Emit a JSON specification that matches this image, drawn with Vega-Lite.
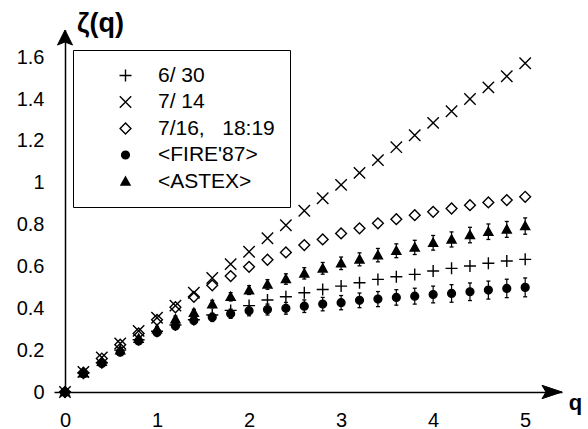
{
  "$schema": "https://vega.github.io/schema/vega-lite/v6.json",
  "width": 497,
  "height": 362,
  "autosize": {"type": "none"},
  "padding": {"left": 65, "top": 30, "right": 26, "bottom": 37},
  "background": "white",
  "config": {
    "view": {"stroke": null},
    "font": "Liberation Sans",
    "axis": {"grid": false, "domainColor": "black", "domainWidth": 1.5, "labelColor": "black", "titleColor": "black", "labelFont": "Liberation Sans", "titleFont": "Liberation Sans", "labelFlush": false},
    "legend": {
      "orient": "none", "legendX": 8, "legendY": 20, "padding": 15, "rowPadding": 4.5,
      "strokeColor": "black", "strokeWidth": 1, "fillColor": "white",
      "labelFontSize": 21, "labelFont": "Liberation Sans", "labelColor": "black",
      "symbolSize": 144, "symbolOffset": 27, "labelOffset": 22,
      "symbolStrokeColor": "black", "symbolStrokeWidth": 1.4
    }
  },
  "datasets": {
    "pts": [
      {"q":0,"s":"6/\u00a030","z":0},{"q":0.2,"s":"6/\u00a030","z":0.09},{"q":0.4,"s":"6/\u00a030","z":0.14},{"q":0.6,"s":"6/\u00a030","z":0.2},{"q":0.8,"s":"6/\u00a030","z":0.25},{"q":1,"s":"6/\u00a030","z":0.29},{"q":1.2,"s":"6/\u00a030","z":0.32},{"q":1.4,"s":"6/\u00a030","z":0.345},{"q":1.6,"s":"6/\u00a030","z":0.368},{"q":1.8,"s":"6/\u00a030","z":0.39},{"q":2,"s":"6/\u00a030","z":0.413},{"q":2.2,"s":"6/\u00a030","z":0.44},{"q":2.4,"s":"6/\u00a030","z":0.455},{"q":2.6,"s":"6/\u00a030","z":0.474},{"q":2.8,"s":"6/\u00a030","z":0.49},{"q":3,"s":"6/\u00a030","z":0.506},{"q":3.2,"s":"6/\u00a030","z":0.522},{"q":3.4,"s":"6/\u00a030","z":0.538},{"q":3.6,"s":"6/\u00a030","z":0.551},{"q":3.8,"s":"6/\u00a030","z":0.562},{"q":4,"s":"6/\u00a030","z":0.578},{"q":4.2,"s":"6/\u00a030","z":0.591},{"q":4.4,"s":"6/\u00a030","z":0.602},{"q":4.6,"s":"6/\u00a030","z":0.615},{"q":4.8,"s":"6/\u00a030","z":0.626},{"q":5,"s":"6/\u00a030","z":0.634},
      {"q":0,"s":"7/\u00a014","z":0},{"q":0.2,"s":"7/\u00a014","z":0.096},{"q":0.4,"s":"7/\u00a014","z":0.165},{"q":0.6,"s":"7/\u00a014","z":0.232},{"q":0.8,"s":"7/\u00a014","z":0.292},{"q":1,"s":"7/\u00a014","z":0.355},{"q":1.2,"s":"7/\u00a014","z":0.413},{"q":1.4,"s":"7/\u00a014","z":0.474},{"q":1.6,"s":"7/\u00a014","z":0.545},{"q":1.8,"s":"7/\u00a014","z":0.611},{"q":2,"s":"7/\u00a014","z":0.67},{"q":2.2,"s":"7/\u00a014","z":0.735},{"q":2.4,"s":"7/\u00a014","z":0.797},{"q":2.6,"s":"7/\u00a014","z":0.866},{"q":2.8,"s":"7/\u00a014","z":0.926},{"q":3,"s":"7/\u00a014","z":0.99},{"q":3.2,"s":"7/\u00a014","z":1.047},{"q":3.4,"s":"7/\u00a014","z":1.108},{"q":3.6,"s":"7/\u00a014","z":1.17},{"q":3.8,"s":"7/\u00a014","z":1.227},{"q":4,"s":"7/\u00a014","z":1.286},{"q":4.2,"s":"7/\u00a014","z":1.342},{"q":4.4,"s":"7/\u00a014","z":1.4},{"q":4.6,"s":"7/\u00a014","z":1.456},{"q":4.8,"s":"7/\u00a014","z":1.509},{"q":5,"s":"7/\u00a014","z":1.571},
      {"q":0,"s":"7/16,\u00a0\u00a0 18:19","z":0},{"q":0.2,"s":"7/16,\u00a0\u00a0 18:19","z":0.092},{"q":0.4,"s":"7/16,\u00a0\u00a0 18:19","z":0.16},{"q":0.6,"s":"7/16,\u00a0\u00a0 18:19","z":0.226},{"q":0.8,"s":"7/16,\u00a0\u00a0 18:19","z":0.28},{"q":1,"s":"7/16,\u00a0\u00a0 18:19","z":0.345},{"q":1.2,"s":"7/16,\u00a0\u00a0 18:19","z":0.405},{"q":1.4,"s":"7/16,\u00a0\u00a0 18:19","z":0.455},{"q":1.6,"s":"7/16,\u00a0\u00a0 18:19","z":0.51},{"q":1.8,"s":"7/16,\u00a0\u00a0 18:19","z":0.554},{"q":2,"s":"7/16,\u00a0\u00a0 18:19","z":0.598},{"q":2.2,"s":"7/16,\u00a0\u00a0 18:19","z":0.632},{"q":2.4,"s":"7/16,\u00a0\u00a0 18:19","z":0.667},{"q":2.6,"s":"7/16,\u00a0\u00a0 18:19","z":0.702},{"q":2.8,"s":"7/16,\u00a0\u00a0 18:19","z":0.729},{"q":3,"s":"7/16,\u00a0\u00a0 18:19","z":0.758},{"q":3.2,"s":"7/16,\u00a0\u00a0 18:19","z":0.782},{"q":3.4,"s":"7/16,\u00a0\u00a0 18:19","z":0.806},{"q":3.6,"s":"7/16,\u00a0\u00a0 18:19","z":0.826},{"q":3.8,"s":"7/16,\u00a0\u00a0 18:19","z":0.845},{"q":4,"s":"7/16,\u00a0\u00a0 18:19","z":0.861},{"q":4.2,"s":"7/16,\u00a0\u00a0 18:19","z":0.877},{"q":4.4,"s":"7/16,\u00a0\u00a0 18:19","z":0.893},{"q":4.6,"s":"7/16,\u00a0\u00a0 18:19","z":0.906},{"q":4.8,"s":"7/16,\u00a0\u00a0 18:19","z":0.917},{"q":5,"s":"7/16,\u00a0\u00a0 18:19","z":0.933},
      {"q":0,"s":"<FIRE'87>","z":0},{"q":0.2,"s":"<FIRE'87>","z":0.087,"lo":0.081,"hi":0.093},{"q":0.4,"s":"<FIRE'87>","z":0.136,"lo":0.128,"hi":0.144},{"q":0.6,"s":"<FIRE'87>","z":0.19,"lo":0.18,"hi":0.2},{"q":0.8,"s":"<FIRE'87>","z":0.244,"lo":0.232,"hi":0.256},{"q":1,"s":"<FIRE'87>","z":0.284,"lo":0.27,"hi":0.298},{"q":1.2,"s":"<FIRE'87>","z":0.316,"lo":0.3,"hi":0.332},{"q":1.4,"s":"<FIRE'87>","z":0.342,"lo":0.324,"hi":0.36},{"q":1.6,"s":"<FIRE'87>","z":0.357,"lo":0.337,"hi":0.377},{"q":1.8,"s":"<FIRE'87>","z":0.374,"lo":0.352,"hi":0.396},{"q":2,"s":"<FIRE'87>","z":0.388,"lo":0.364,"hi":0.412},{"q":2.2,"s":"<FIRE'87>","z":0.394,"lo":0.368,"hi":0.42},{"q":2.4,"s":"<FIRE'87>","z":0.4,"lo":0.372,"hi":0.428},{"q":2.6,"s":"<FIRE'87>","z":0.41,"lo":0.38,"hi":0.44},{"q":2.8,"s":"<FIRE'87>","z":0.42,"lo":0.388,"hi":0.452},{"q":3,"s":"<FIRE'87>","z":0.427,"lo":0.393,"hi":0.461},{"q":3.2,"s":"<FIRE'87>","z":0.438,"lo":0.403,"hi":0.473},{"q":3.4,"s":"<FIRE'87>","z":0.444,"lo":0.408,"hi":0.48},{"q":3.6,"s":"<FIRE'87>","z":0.452,"lo":0.415,"hi":0.489},{"q":3.8,"s":"<FIRE'87>","z":0.458,"lo":0.42,"hi":0.496},{"q":4,"s":"<FIRE'87>","z":0.466,"lo":0.426,"hi":0.506},{"q":4.2,"s":"<FIRE'87>","z":0.471,"lo":0.429,"hi":0.513},{"q":4.4,"s":"<FIRE'87>","z":0.479,"lo":0.437,"hi":0.521},{"q":4.6,"s":"<FIRE'87>","z":0.487,"lo":0.444,"hi":0.53},{"q":4.8,"s":"<FIRE'87>","z":0.495,"lo":0.451,"hi":0.539},{"q":5,"s":"<FIRE'87>","z":0.5,"lo":0.455,"hi":0.545},
      {"q":0,"s":"<ASTEX>","z":0},{"q":0.2,"s":"<ASTEX>","z":0.09,"lo":0.085,"hi":0.095},{"q":0.4,"s":"<ASTEX>","z":0.145,"lo":0.138,"hi":0.152},{"q":0.6,"s":"<ASTEX>","z":0.2,"lo":0.191,"hi":0.209},{"q":0.8,"s":"<ASTEX>","z":0.255,"lo":0.244,"hi":0.266},{"q":1,"s":"<ASTEX>","z":0.3,"lo":0.287,"hi":0.313},{"q":1.2,"s":"<ASTEX>","z":0.348,"lo":0.333,"hi":0.363},{"q":1.4,"s":"<ASTEX>","z":0.379,"lo":0.363,"hi":0.395},{"q":1.6,"s":"<ASTEX>","z":0.42,"lo":0.402,"hi":0.438},{"q":1.8,"s":"<ASTEX>","z":0.455,"lo":0.435,"hi":0.475},{"q":2,"s":"<ASTEX>","z":0.487,"lo":0.466,"hi":0.508},{"q":2.2,"s":"<ASTEX>","z":0.514,"lo":0.491,"hi":0.537},{"q":2.4,"s":"<ASTEX>","z":0.54,"lo":0.515,"hi":0.565},{"q":2.6,"s":"<ASTEX>","z":0.567,"lo":0.54,"hi":0.594},{"q":2.8,"s":"<ASTEX>","z":0.591,"lo":0.563,"hi":0.619},{"q":3,"s":"<ASTEX>","z":0.615,"lo":0.585,"hi":0.645},{"q":3.2,"s":"<ASTEX>","z":0.634,"lo":0.603,"hi":0.665},{"q":3.4,"s":"<ASTEX>","z":0.654,"lo":0.622,"hi":0.686},{"q":3.6,"s":"<ASTEX>","z":0.675,"lo":0.642,"hi":0.708},{"q":3.8,"s":"<ASTEX>","z":0.691,"lo":0.657,"hi":0.725},{"q":4,"s":"<ASTEX>","z":0.713,"lo":0.678,"hi":0.748},{"q":4.2,"s":"<ASTEX>","z":0.729,"lo":0.693,"hi":0.765},{"q":4.4,"s":"<ASTEX>","z":0.75,"lo":0.713,"hi":0.787},{"q":4.6,"s":"<ASTEX>","z":0.766,"lo":0.729,"hi":0.803},{"q":4.8,"s":"<ASTEX>","z":0.777,"lo":0.739,"hi":0.815},{"q":5,"s":"<ASTEX>","z":0.793,"lo":0.754,"hi":0.832}
    ]
  },
  "layer": [
    {
      "data": {"name": "pts"},
      "transform": [{"filter": "isValid(datum.lo)"}],
      "mark": {"type": "rule", "color": "black", "strokeWidth": 1.2},
      "encoding": {
        "x": {"field": "q", "type": "quantitative", "scale": {"domain": [0, 5.4], "nice": false, "zero": false},
          "axis": {"values": [0, 1, 2, 3, 4, 5], "format": "d", "ticks": false, "labelFontSize": 20, "labelPadding": 18, "title": "q", "titleFontSize": 22, "titleFontWeight": "bold", "titleX": 510, "titleY": 17, "titleAlign": "center", "titleBaseline": "alphabetic"}},
        "y": {"field": "lo", "type": "quantitative", "scale": {"domain": [0, 1.73], "nice": false},
          "axis": {"values": [0, 0.2, 0.4, 0.6, 0.8, 1, 1.2, 1.4, 1.6], "format": ".1~f", "ticks": true, "tickSize": 11, "tickWidth": 1.5, "tickColor": "black", "tickOpacity": {"condition": {"test": "datum.value === 0", "value": 1}, "value": 0}, "labelFontSize": 20, "labelPadding": 10, "title": "ζ(q)", "titleAngle": 0, "titleFontSize": 27, "titleFontWeight": "bold", "titleX": 35, "titleY": 1, "titleAlign": "center", "titleBaseline": "alphabetic"}},
        "y2": {"field": "hi"}
      }
    },
    {
      "data": {"name": "pts"},
      "transform": [{"filter": "isValid(datum.lo)"}],
      "mark": {"type": "point", "shape": "M-1,0L1,0", "size": 16, "stroke": "black", "strokeWidth": 1.3, "opacity": 1},
      "encoding": {"x": {"field": "q", "type": "quantitative"}, "y": {"field": "lo", "type": "quantitative"}}
    },
    {
      "data": {"name": "pts"},
      "transform": [{"filter": "isValid(datum.hi)"}],
      "mark": {"type": "point", "shape": "M-1,0L1,0", "size": 16, "stroke": "black", "strokeWidth": 1.3, "opacity": 1},
      "encoding": {"x": {"field": "q", "type": "quantitative"}, "y": {"field": "hi", "type": "quantitative"}}
    },
    {
      "data": {"name": "pts"},
      "mark": {"type": "point", "strokeWidth": 1.4, "opacity": 1, "size": 144},
      "encoding": {
        "x": {"field": "q", "type": "quantitative"},
        "y": {"field": "z", "type": "quantitative"},
        "shape": {"field": "s", "type": "nominal",
          "scale": {"domain": ["6/\u00a030", "7/\u00a014", "7/16,\u00a0\u00a0 18:19", "<FIRE'87>", "<ASTEX>"],
            "range": ["M-1,0L1,0M0,-1L0,1", "M-0.95,-0.95L0.95,0.95M-0.95,0.95L0.95,-0.95", "M0,-0.9L0.9,0L0,0.9L-0.9,0Z", "M0.65,0A0.65,0.65 0 1,1 -0.65,0A0.65,0.65 0 1,1 0.65,0Z", "M0,-0.75L0.75,0.6L-0.75,0.6Z"]},
          "legend": {"title": null}},
        "fill": {"field": "s", "type": "nominal",
          "scale": {"domain": ["6/\u00a030", "7/\u00a014", "7/16,\u00a0\u00a0 18:19", "<FIRE'87>", "<ASTEX>"],
            "range": ["transparent", "transparent", "transparent", "black", "black"]},
          "legend": {"title": null}},
        "stroke": {"field": "s", "type": "nominal",
          "scale": {"domain": ["6/\u00a030", "7/\u00a014", "7/16,\u00a0\u00a0 18:19", "<FIRE'87>", "<ASTEX>"],
            "range": ["black", "black", "black", "black", "black"]},
          "legend": {"title": null}}
      }
    },
    {
      "data": {"values": [{"ax": 5.4, "ay": 0}]},
      "mark": {"type": "point", "shape": "M0,0L-2,-0.67L-1.6,0L-2,0.67Z", "size": 400, "fill": "black", "stroke": "black", "strokeWidth": 1, "opacity": 1, "filled": true},
      "encoding": {"x": {"field": "ax", "type": "quantitative"}, "y": {"field": "ay", "type": "quantitative"}}
    },
    {
      "data": {"values": [{"ax": 0, "ay": 1.73}]},
      "mark": {"type": "point", "shape": "M0,0L-0.75,1.5L0,1.2L0.75,1.5Z", "size": 400, "fill": "black", "stroke": "black", "strokeWidth": 1, "opacity": 1, "filled": true},
      "encoding": {"x": {"field": "ax", "type": "quantitative"}, "y": {"field": "ay", "type": "quantitative"}}
    }
  ]
}
